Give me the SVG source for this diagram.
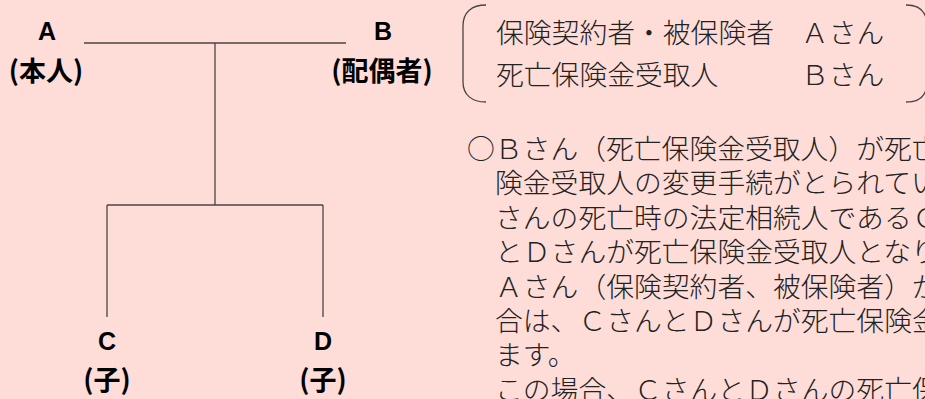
<svg xmlns="http://www.w3.org/2000/svg" width="925" height="399" viewBox="0 0 925 399">
<style>
.bg{fill:#FEDDD9}
.ln{fill:none;stroke:#4a4444;stroke-width:1.3}
.br{fill:none;stroke:#4a4444;stroke-width:1.3}
.lt{font-family:"Liberation Sans","Noto Sans CJK JP",sans-serif;font-weight:bold;font-size:25px;fill:#000;text-anchor:middle}
.lj{font-family:"Noto Sans CJK JP",sans-serif;font-weight:bold;font-size:27px;fill:#000;text-anchor:middle}
.tx{font-family:"Noto Sans CJK JP",sans-serif;font-weight:300;font-size:27.8px;fill:#222}
</style>
<rect class="bg" x="0" y="0" width="925" height="399"/>
<g id="connectors">
<path class="ln" d="M84,43 H346"/>
<path class="ln" d="M215,43 V205"/>
<path class="ln" d="M107,205 H323"/>
<path class="ln" d="M107,205 V317"/>
<path class="ln" d="M323,205 V317"/>
</g>
<g id="node-A">
<text class="lt" x="47" y="40">A</text>
<text class="lj" x="46" y="81">(本人)</text>
</g>
<g id="node-B">
<text class="lt" x="383" y="40">B</text>
<text class="lj" x="382" y="81">(配偶者)</text>
</g>
<g id="node-C">
<text class="lt" x="107" y="350">C</text>
<text class="lj" x="107" y="390">(子)</text>
</g>
<g id="node-D">
<text class="lt" x="323" y="350">D</text>
<text class="lj" x="323" y="390">(子)</text>
</g>
<g id="legend">
<path class="br" d="M486,5 C472,5 463,12 463,26 V82 C463,95 472,102 486,102"/>
<path class="br" d="M906,5 C920,5 927,12 927,26 V82 C927,95 920,102 906,102"/>
<text class="tx" x="496" y="43">保険契約者・被保険者</text>
<text class="tx" x="801" y="43">Ａさん</text>
<text class="tx" x="496" y="85">死亡保険金受取人</text>
<text class="tx" x="801" y="85">Ｂさん</text>
</g>
<g id="note">
<text class="tx" x="467" y="159">○Ｂさん（死亡保険金受取人）が死亡</text>
<text class="tx" x="495" y="193.4">険金受取人の変更手続がとられてい</text>
<text class="tx" x="495" y="227.8">さんの死亡時の法定相続人であるＣ</text>
<text class="tx" x="495" y="262.2">とＤさんが死亡保険金受取人となり</text>
<text class="tx" x="495" y="296.6">Ａさん（保険契約者、被保険者）が</text>
<text class="tx" x="495" y="331">合は、ＣさんとＤさんが死亡保険金</text>
<text class="tx" x="495" y="365.4">ます。</text>
<text class="tx" x="495" y="399.8">この場合、ＣさんとＤさんの死亡保</text>
</g>
</svg>
